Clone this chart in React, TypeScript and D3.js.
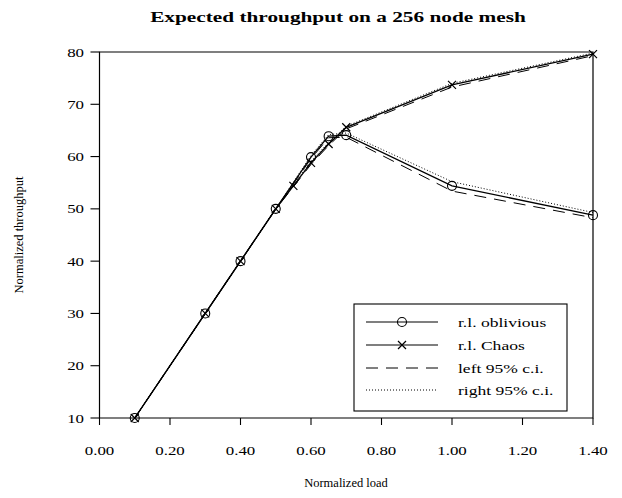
import React from "react";
import * as d3 from "d3";

const title = "Expected throughput on a 256 node mesh";
const xLabel = "Normalized load";
const yLabel = "Normalized throughput";

const xTicks = [0, 0.2, 0.4, 0.6, 0.8, 1.0, 1.2, 1.4];
const yTicks = [10, 20, 30, 40, 50, 60, 70, 80];

const obliviousX = [0.1, 0.3, 0.4, 0.5, 0.6, 0.65, 0.7, 1.0, 1.4];
const obliviousY = [10, 30, 40, 50, 59.9, 63.9, 64.1, 54.4, 48.8];
const obliviousLeftCI = [10, 30, 40, 50, 59.6, 63.6, 63.7, 53.4, 48.3];
const obliviousRightCI = [10, 30, 40, 50, 60.2, 64.2, 64.5, 55.2, 49.3];

const chaosX = [0.1, 0.3, 0.4, 0.5, 0.55, 0.6, 0.65, 0.7, 1.0, 1.4];
const chaosY = [10, 30, 40, 50, 54.4, 58.8, 62.4, 65.6, 73.7, 79.6];
const chaosLeftCI = [10, 30, 40, 50, 54.2, 58.5, 62.1, 65.3, 73.3, 79.3];
const chaosRightCI = [10, 30, 40, 50, 54.6, 59.1, 62.7, 65.8, 74.0, 79.8];

const legendItems = ["r.l. oblivious", "r.l. Chaos", "left 95% c.i.", "right 95% c.i."];

const FONT = "'Liberation Serif', 'Times New Roman', serif";

function SText(props: { x: number; y: number; s: number; size: number; anchor?: string; bold?: boolean; children: React.ReactNode }) {
  return (
    <g transform={`translate(${props.x},${props.y}) scale(${props.s},1)`}>
      <text x={0} y={0} textAnchor={props.anchor || "start"} fontSize={props.size} fontWeight={props.bold ? "bold" : "normal"}>
        {props.children}
      </text>
    </g>
  );
}

export default function App() {
  const W = 622, H = 498;
  const left = 99.5, right = 593, top = 52, bottom = 418;
  const x = d3.scaleLinear().domain([0, 1.4]).range([left, right]);
  const y = d3.scaleLinear().domain([10, 80]).range([bottom, top]);

  const line = (xs: number[], ys: number[]) =>
    d3.line<number>().x((_, i) => x(xs[i])).y((d) => y(d))(ys) || "";

  const circle = (cx: number, cy: number, key: string) => (
    <circle key={key} cx={cx} cy={cy} r={4.5} fill="none" stroke="#000" strokeWidth={1.1} />
  );
  const cross = (cx: number, cy: number, key: string) => (
    <path key={key} d={`M${cx - 4},${cy - 4}L${cx + 4},${cy + 4}M${cx - 4},${cy + 4}L${cx + 4},${cy - 4}`} stroke="#000" strokeWidth={1.2} />
  );

  const lx0 = 354, ly0 = 304, lw = 213, lh = 107;
  const rowY = [322, 345, 368, 390];
  const sx0 = 366, sx1 = 438, textX = 458;

  return (
    <svg width={W} height={H} style={{ display: "block", position: "absolute", left: 0, top: 0 }} fontFamily={FONT}>
      <rect width={W} height={H} fill="#fff" />
      <SText x={338} y={22} s={1.42} size={15} anchor="middle" bold>{title}</SText>

      {/* frame */}
      <path d={`M${left},${top}L${right},${top}L${right},${bottom}L${left},${bottom}Z`} fill="none" stroke="#000" strokeWidth={1.2} />

      {/* y ticks */}
      {yTicks.map((t) => (
        <g key={"y" + t}>
          <line x1={left - 9} x2={left} y1={y(t)} y2={y(t)} stroke="#000" strokeWidth={1.1} />
          <SText x={84} y={y(t) + 4.5} s={1.25} size={13.5} anchor="end">{t}</SText>
        </g>
      ))}
      {/* x ticks */}
      {xTicks.map((t) => (
        <g key={"x" + t}>
          <line x1={x(t)} x2={x(t)} y1={bottom} y2={bottom + 7} stroke="#000" strokeWidth={1.1} />
          <SText x={x(t)} y={455} s={1.25} size={13.5} anchor="middle">{t.toFixed(2)}</SText>
        </g>
      ))}

      <text x={346} y={487} textAnchor="middle" fontSize={12.5}>{xLabel}</text>
      <text transform={`translate(23,235) rotate(-90)`} textAnchor="middle" fontSize={12.5}>{yLabel}</text>

      {/* CI lines */}
      <path d={line(obliviousX, obliviousLeftCI)} fill="none" stroke="#000" strokeWidth={1} strokeDasharray="12,8" />
      <path d={line(obliviousX, obliviousRightCI)} fill="none" stroke="#000" strokeWidth={1} strokeDasharray="1,2" />
      <path d={line(chaosX, chaosLeftCI)} fill="none" stroke="#000" strokeWidth={1} strokeDasharray="12,8" />
      <path d={line(chaosX, chaosRightCI)} fill="none" stroke="#000" strokeWidth={1} strokeDasharray="1,2" />

      {/* main series */}
      <path d={line(obliviousX, obliviousY)} fill="none" stroke="#000" strokeWidth={1.3} />
      <path d={line(chaosX, chaosY)} fill="none" stroke="#000" strokeWidth={1.3} />
      {obliviousX.map((v, i) => circle(x(v), y(obliviousY[i]), "c" + i))}
      {chaosX.map((v, i) => cross(x(v), y(chaosY[i]), "x" + i))}

      {/* legend */}
      <rect x={lx0} y={ly0} width={lw} height={lh} fill="#fff" stroke="#000" strokeWidth={1.1} />
      <line x1={sx0} x2={sx1} y1={rowY[0]} y2={rowY[0]} stroke="#000" strokeWidth={1.2} />
      {circle((sx0 + sx1) / 2, rowY[0], "lc")}
      <line x1={sx0} x2={sx1} y1={rowY[1]} y2={rowY[1]} stroke="#000" strokeWidth={1.2} />
      {cross((sx0 + sx1) / 2, rowY[1], "lx")}
      <line x1={sx0} x2={sx1} y1={rowY[2]} y2={rowY[2]} stroke="#000" strokeWidth={1} strokeDasharray="12,8" />
      <line x1={sx0} x2={sx1} y1={rowY[3]} y2={rowY[3]} stroke="#000" strokeWidth={1} strokeDasharray="1,2" />
      {legendItems.map((t, i) => (
        <SText key={t} x={textX} y={rowY[i] + 4.5} s={1.35} size={13}>{t}</SText>
      ))}
    </svg>
  );
}
